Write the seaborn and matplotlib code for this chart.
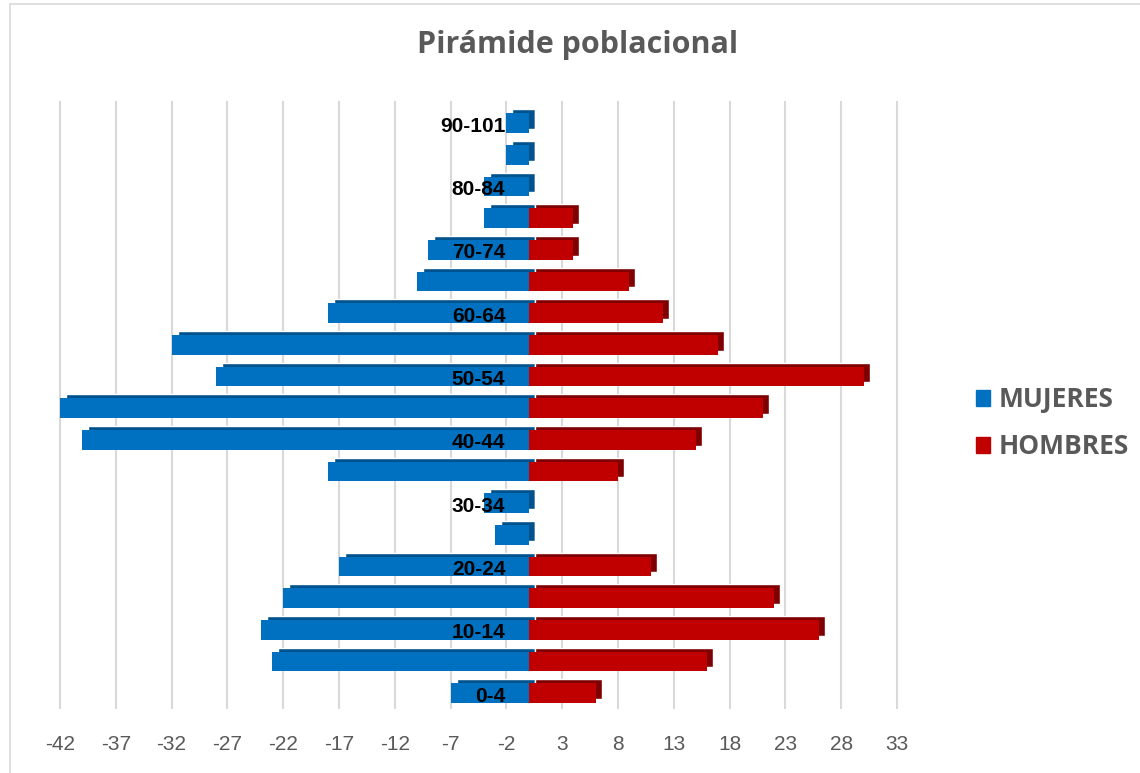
import matplotlib
matplotlib.use('Agg')
import matplotlib.pyplot as plt
import matplotlib.transforms as mtransforms
from matplotlib.patches import Patch, Rectangle
import pandas as pd
import seaborn as sns

# grupos de edad, de abajo hacia arriba
edades = ['0-4', '5-9', '10-14', '15-19', '20-24', '25-29', '30-34', '35-39',
          '40-44', '45-49', '50-54', '55-59', '60-64', '65-69', '70-74',
          '75-79', '80-84', '85-89', '90-101']
mujeres = [7, 23, 24, 22, 17, 3, 4, 18, 40, 42, 28, 32, 18, 10, 9, 4, 4, 2, 2]
hombres = [6, 16, 26, 22, 11, 0, 0, 8, 15, 21, 30, 17, 12, 9, 4, 4, 0, 0, 0]
ticks = [-42, -37, -32, -27, -22, -17, -12, -7, -2, 3, 8, 13, 18, 23, 28, 33]

AZUL, AZUL_OSC = '#0070C0', '#00528C'
ROJO, ROJO_OSC = '#C00000', '#7F0000'
GRIS = '#595959'

orden = edades[::-1]
d = pd.DataFrame({
    'Edad': edades * 2,
    'Sexo': ['MUJERES'] * len(edades) + ['HOMBRES'] * len(edades),
    'Valor': [-m for m in mujeres] + hombres,
})

sns.set_theme(style='white')
plt.rcParams['font.family'] = ['Liberation Sans', 'DejaVu Sans']

fig = plt.figure(figsize=(11.4, 7.73), dpi=100)
ax = fig.add_axes([54.4 / 1140, 64 / 773, (902.6 - 54.4) / 1140, (672 - 64) / 773])

# cara superior / lateral (efecto 3D): copia oscura desplazada
pos = {e: i for i, e in enumerate(orden)}
sombra = mtransforms.offset_copy(ax.transData, fig=fig, x=6, y=4, units='dots')
ys = [pos[e] for e in edades]
ax.barh(ys, [-m for m in mujeres], height=0.63, color=AZUL_OSC,
        transform=sombra, zorder=2)
ax.barh(ys, hombres, height=0.63, color=ROJO_OSC, transform=sombra, zorder=2)

sns.barplot(d, x='Valor', y='Edad', hue='Sexo', order=orden,
            hue_order=['MUJERES', 'HOMBRES'], palette=[AZUL, ROJO],
            saturation=1, dodge=False, width=0.63, orient='h', ax=ax,
            legend=False, zorder=3, linewidth=0)

for e in edades[::2]:
    ax.text(-2.1, pos[e] + 0.1, e, ha='right', va='center', fontsize=15,
            fontweight='bold', color='black', zorder=5)

ax.set_xlim(-42.5, 33.5)
ax.set_ylim(18.5, -0.7)
ax.set_xticks(ticks)
ax.set_xticklabels([str(t) for t in ticks], color=GRIS, fontsize=15)
ax.tick_params(axis='x', length=0, pad=19)
ax.set_yticks([])
ax.set_xlabel('')
ax.set_ylabel('')
ax.grid(axis='x', color='#D9D9D9', linewidth=1.5, zorder=0)
ax.set_axisbelow(True)
sns.despine(ax=ax, left=True, bottom=True)

fig.text(578 / 1140, 1 - 45 / 773, 'Pirámide poblacional', ha='center',
         va='center', fontsize=22, fontweight='bold', color=GRIS,
         family=['Open Sans', 'DejaVu Sans'])

handles = [Patch(color=AZUL), Patch(color=ROJO)]
fig.legend(handles, ['MUJERES', 'HOMBRES'], loc='center left',
           bbox_to_anchor=(952 / 1140, 1 - 423 / 773), frameon=False,
           handlelength=0.55, handleheight=0.55, handletextpad=0.3,
           labelspacing=0.75, prop={'family': ['Open Sans', 'DejaVu Sans'],
                                    'weight': 'bold', 'size': 19},
           labelcolor=GRIS)

fig.patches.append(Rectangle((10 / 1140, -0.01), 1.0, 1.005,
                             transform=fig.transFigure, fill=False,
                             edgecolor='#D9D9D9', linewidth=1.2))

fig.savefig('out.png', dpi=100)
